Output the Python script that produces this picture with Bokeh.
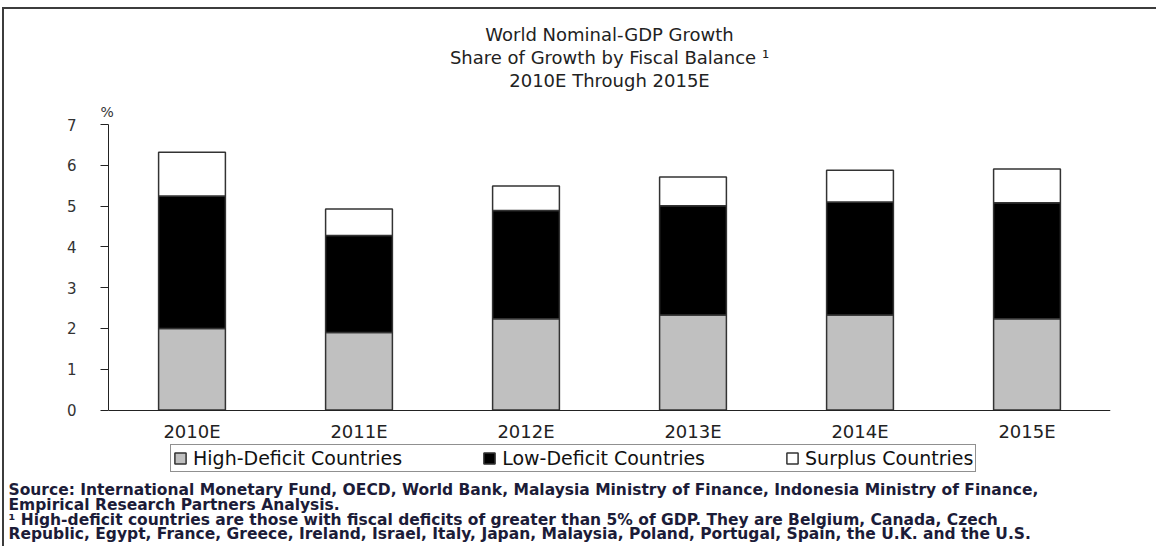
from bokeh.plotting import figure
from bokeh.models import (FactorRange, Range1d, FixedTicker, Title, Legend)
from bokeh.embed import file_html
from bokeh.resources import INLINE

years = ["2010E", "2011E", "2012E", "2013E", "2014E", "2015E"]
high_deficit = [2.00, 1.90, 2.24, 2.33, 2.33, 2.24]
low_deficit = [3.25, 2.38, 2.65, 2.68, 2.77, 2.84]
surplus = [1.07, 0.65, 0.60, 0.70, 0.78, 0.83]
series_names = ["High-Deficit Countries", "Low-Deficit Countries", "Surplus Countries"]
series_keys = ["high", "low", "surplus"]
series_colors = ["#c0c0c0", "#000000", "#ffffff"]
y_ticks = [0, 1, 2, 3, 4, 5, 6, 7]

title_lines = ["World Nominal-GDP Growth",
               "Share of Growth by Fiscal Balance \u00b9",
               "2010E Through 2015E"]
notes = [
    "Source: International Monetary Fund, OECD, World Bank, Malaysia Ministry of Finance, Indonesia Ministry of Finance,",
    "Empirical Research Partners Analysis.",
    "\u00b9 High-deficit countries are those with fiscal deficits of greater than 5% of GDP.  They are Belgium, Canada, Czech",
    "Republic, Egypt, France, Greece, Ireland, Israel, Italy, Japan, Malaysia, Poland, Portugal, Spain, the U.K. and the U.S.",
]

FONT = "DejaVu Sans"

data = {"years": years, "high": high_deficit, "low": low_deficit, "surplus": surplus}

# frame spans from y=7 (top) down to below the legend; the x axis sits at y=0
p = figure(x_range=FactorRange(*years, range_padding=0), y_range=Range1d(-1.5556, 7),
           width=1154, height=539, output_backend="svg", toolbar_location=None,
           min_border_left=104, min_border_right=48, min_border_top=115, min_border_bottom=72)
p.styles = {"margin-left": "2px", "margin-top": "7px",
            "border-top": "2px solid #3c3c3c", "border-left": "2px solid #3c3c3c"}
p.title.visible = False
p.outline_line_color = None
p.xgrid.visible = False
p.ygrid.visible = False

renderers = p.vbar_stack(series_keys, x="years", width=0.4, source=data,
                         color=series_colors, line_color="#333333", line_width=1.5)

p.yaxis.ticker = FixedTicker(ticks=y_ticks)
p.yaxis.bounds = (0, 7)
p.yaxis.minor_tick_line_color = None
p.yaxis.major_tick_out = 8
p.yaxis.major_tick_in = 0
p.yaxis.axis_line_color = "#222222"
p.yaxis.major_tick_line_color = "#222222"
p.yaxis.major_label_standoff = 24
p.yaxis.major_label_text_font = FONT
p.yaxis.major_label_text_font_size = "15px"
p.yaxis.major_label_text_color = "#333333"

p.xaxis.fixed_location = 0
p.xaxis.major_tick_out = 0
p.xaxis.major_tick_in = 0
p.xaxis.axis_line_color = "#222222"
p.xaxis.major_label_standoff = 11
p.xaxis.major_label_text_font = FONT
p.xaxis.major_label_text_font_size = "18px"
p.xaxis.major_label_text_color = "#222222"

# above: "%" nearest the frame, a small gap, then the title lines (bottom line first)
p.add_layout(Title(text="%", align="left", offset=-8, standoff=9,
                   text_font=FONT, text_font_size="14px", text_font_style="normal",
                   text_color="#333333"), "above")
p.add_layout(Title(text=" ", standoff=4, text_font_size="1px"), "above")
for t in reversed(title_lines):
    p.add_layout(Title(text=t, align="center", offset=-19, standoff=0,
                       text_font=FONT, text_font_size="18px", text_font_style="normal",
                       text_line_height=0.95, text_color="#222222"), "above")

# legend inside the (extended) frame, under the category labels
legend = Legend(items=[(n, [r]) for n, r in zip(series_names, renderers)],
                orientation="horizontal", location=(62, 1),
                label_text_font=FONT, label_text_font_size="19px", label_text_color="#111111",
                glyph_width=14, glyph_height=14, label_standoff=6, label_height=16,
                spacing=80, padding=2, margin=0,
                border_line_color="#222222", border_line_width=1.5,
                background_fill_color="white", background_fill_alpha=1)
p.add_layout(legend, "center")

# footnotes
p.add_layout(Title(text="\n".join(notes), align="left", offset=-100, standoff=10,
                   text_font=FONT, text_font_size="15.5px", text_font_style="bold",
                   text_line_height=0.83, text_color="#1c1c38"), "below")

open("out.html", "w").write(file_html(p, INLINE))
